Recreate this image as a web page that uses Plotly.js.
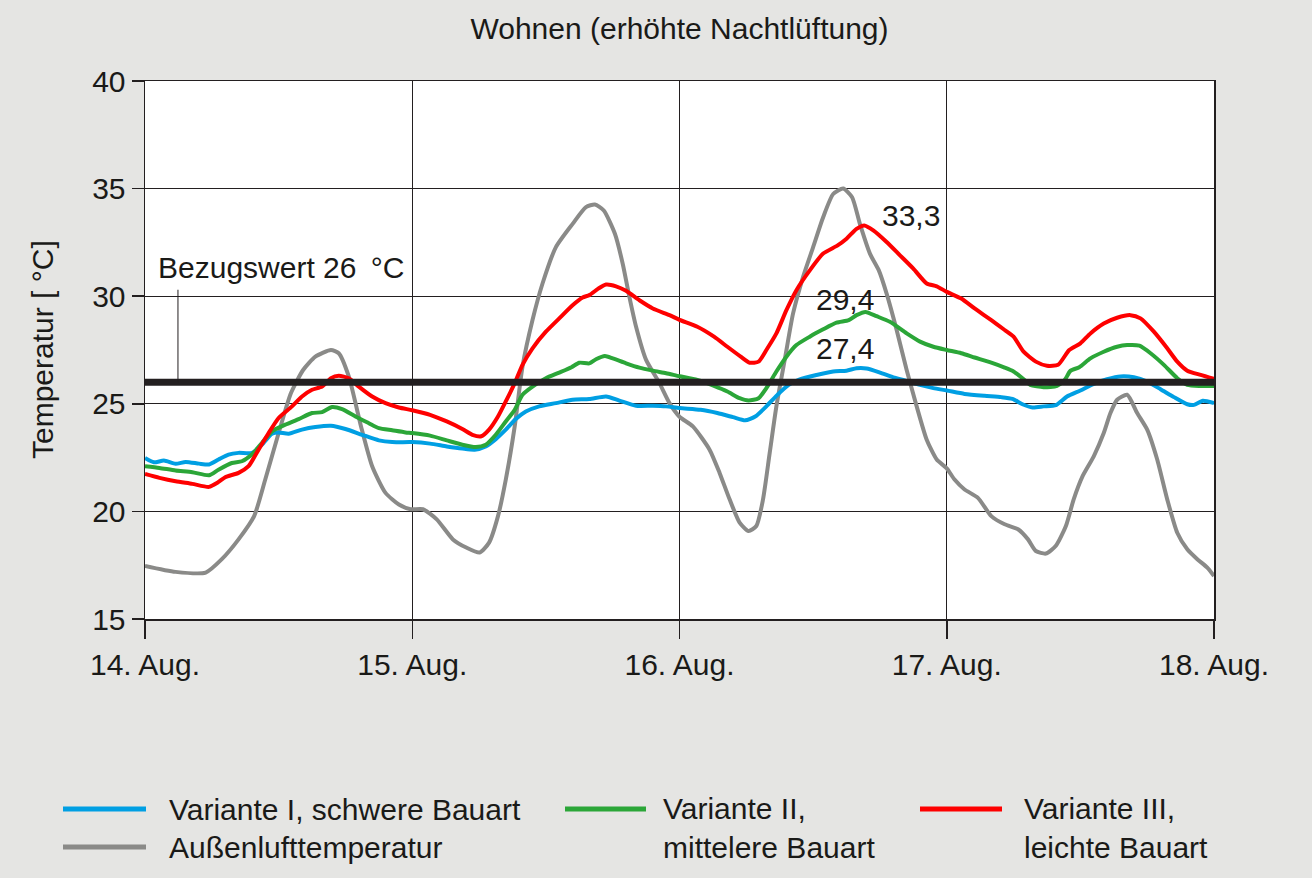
<!DOCTYPE html>
<html>
<head>
<meta charset="utf-8">
<script src="https://cdn.plot.ly/plotly-3.0.1.min.js"></script>
<style>
html,body{margin:0;padding:0;background:#e5e5e3;}
#chart{width:1312px;height:878px;}
</style>
</head>
<body>
<div id="chart"></div>
<script>
// Time in hours since 14. Aug. 00:00
const tickHours = [0, 24, 48, 72, 96];
const tickLabels = ['14. Aug.', '15. Aug.', '16. Aug.', '17. Aug.', '18. Aug.'];

// Außenlufttemperatur
const outsideHours = [0,2.75,5.45,6.9,8.4,9.8,10.8,12.0,13.1,14.2,15.3,16.7,17.4,18.3,19.4,20.4,21.6,22.8,23.85,
  24.96,26.2,27.65,28.85,30.05,30.9,31.7,32.4,33.2,33.9,34.8,35.7,36.9,38.4,39.6,40.4,41.2,42.2,42.9,43.5,44.1,45.0,46.2,47.1,48.0,
  49.2,50.7,51.6,52.5,53.4,54.2,54.9,55.5,56.1,56.7,57.5,58.2,59.1,60.0,60.9,61.8,62.7,63.5,64.2,65.1,65.9,66.6,67.5,68.4,69.3,70.2,71.1,72.0,
  72.7,73.6,74.8,76.0,77.2,78.4,79.3,80.0,80.9,81.8,82.7,83.4,84.2,85.2,86.1,86.7,87.3,88.2,89.1,90.0,90.9,91.8,92.7,93.6,94.5,95.4,96];
const outsideTemp = [17.47,17.19,17.16,17.78,18.7,19.78,21.48,23.64,25.49,26.57,27.19,27.5,27.35,26.27,23.95,22.1,20.86,20.32,20.1,
  20.1,19.63,18.7,18.32,18.09,18.55,19.78,21.48,23.95,26.73,28.89,30.59,32.28,33.36,34.14,34.26,33.98,32.9,31.51,29.97,28.58,27.04,25.96,25.03,24.4,
  23.95,22.87,21.79,20.56,19.48,19.09,19.32,20.56,22.72,24.88,27.19,29.2,30.9,32.28,33.67,34.75,35.0,34.6,33.36,31.98,31.2,30.12,28.43,26.57,24.88,23.33,22.41,22.0,
  21.48,21.02,20.63,19.78,19.4,19.17,18.7,18.16,18.04,18.4,19.32,20.56,21.64,22.56,23.64,24.57,25.19,25.42,24.57,23.8,22.41,20.56,19.01,18.24,17.78,17.39,17.0];

// Variante I, schwere Bauart
const v1Hours = [0,0.8,1.7,2.75,3.65,4.85,5.75,6.6,7.5,8.4,9.6,10.5,11.4,12.0,12.9,14.1,15.3,16.7,18.0,19.5,21.0,22.2,24.0,
  25.6,27.1,28.5,29.6,30.6,31.5,32.4,33.3,34.2,35.4,36.9,38.4,39.9,41.4,42.6,44.1,45.6,46.8,48.0,
  49.9,51.4,52.8,53.9,54.8,55.8,56.7,57.8,58.8,60.3,61.8,63.0,63.9,64.8,66.0,67.2,68.4,69.6,70.8,72.0,
  73.6,75.4,76.9,77.9,78.8,79.7,80.7,81.8,82.8,84.0,85.2,86.4,87.6,88.8,90.0,91.2,92.4,93.6,94.2,95.0,96];
const v1Temp = [22.48,22.28,22.36,22.21,22.3,22.22,22.18,22.41,22.64,22.72,22.72,23.1,23.61,23.67,23.61,23.8,23.92,23.98,23.83,23.56,23.3,23.22,23.22,
  23.15,23.02,22.92,22.87,23.02,23.36,23.8,24.29,24.64,24.88,25.03,25.19,25.22,25.34,25.15,24.91,24.91,24.88,24.8,
  24.72,24.57,24.38,24.23,24.41,24.88,25.37,25.88,26.14,26.34,26.5,26.54,26.65,26.64,26.45,26.23,26.06,25.88,25.73,25.62,
  25.46,25.37,25.31,25.23,24.98,24.83,24.88,24.94,25.34,25.62,25.93,26.14,26.27,26.23,26.03,25.68,25.31,24.98,24.95,25.14,25.03];

// Variante II, mittelere Bauart
const v2Hours = [0,1.3,2.75,4.25,5.75,6.6,7.8,8.7,9.6,10.5,11.4,12.6,13.8,15.0,15.9,16.8,17.7,18.9,20.1,21.0,22.2,23.4,24.0,
  25.6,27.1,28.5,29.7,30.6,31.5,32.4,33.2,33.9,34.8,36.0,37.2,38.3,39.0,39.9,40.5,41.3,42.0,43.2,44.4,45.6,46.8,48.0,
  49.6,51.1,52.3,53.4,54.2,55.1,55.8,56.7,57.6,58.5,59.7,60.9,62.1,63.2,63.9,64.7,65.7,66.9,68.4,69.6,70.8,72.0,
  73.3,74.5,76.0,77.2,78.0,78.8,79.5,80.7,81.9,82.6,83.1,83.9,84.9,86.1,87.3,88.2,89.3,90.3,91.5,92.7,93.6,94.8,96];
const v2Temp = [22.1,22.02,21.9,21.82,21.68,21.94,22.25,22.33,22.64,23.18,23.72,24.03,24.29,24.57,24.61,24.85,24.75,24.41,24.1,23.87,23.77,23.67,23.64,
  23.52,23.3,23.1,22.99,23.1,23.56,24.18,24.72,25.42,25.8,26.19,26.45,26.7,26.91,26.88,27.07,27.22,27.11,26.88,26.68,26.54,26.42,26.28,
  26.11,25.83,25.57,25.26,25.15,25.26,25.73,26.5,27.19,27.73,28.12,28.46,28.77,28.89,29.12,29.27,29.07,28.81,28.27,27.89,27.65,27.5,
  27.35,27.15,26.91,26.68,26.5,26.19,25.88,25.77,25.83,26.11,26.53,26.7,27.11,27.42,27.65,27.73,27.7,27.35,26.81,26.19,25.88,25.83,25.83];

// Variante III, leichte Bauart
const v3Hours = [0,1.3,2.75,4.25,5.75,6.5,7.2,8.4,9.3,10.2,11.1,12.0,13.2,14.1,15.0,15.9,16.7,17.4,18.3,19.2,20.4,21.6,22.8,24.0,
  25.6,27.1,28.5,29.4,30.2,30.9,31.7,32.4,33.2,33.9,34.8,36.0,37.2,38.4,39.3,39.9,40.7,41.4,42.3,43.2,44.4,45.6,47.1,48.0,
  49.6,51.1,52.3,53.5,54.3,55.1,55.8,56.7,57.6,58.5,59.7,60.9,62.2,63.0,63.9,64.6,65.4,66.6,67.8,69.0,70.2,71.1,72.0,
  73.3,74.5,76.0,77.2,78.0,78.9,80.0,81.0,82.0,83.0,84.0,84.9,86.1,87.3,88.5,89.4,90.6,91.8,92.7,93.6,94.8,96];
const v3Temp = [21.74,21.56,21.4,21.28,21.14,21.33,21.59,21.79,22.1,22.87,23.64,24.34,24.88,25.34,25.65,25.8,26.19,26.3,26.19,25.8,25.34,25.03,24.83,24.7,
  24.49,24.18,23.83,23.56,23.49,23.8,24.41,25.11,25.96,26.81,27.58,28.35,28.97,29.58,29.94,30.05,30.35,30.54,30.46,30.25,29.81,29.43,29.12,28.9,
  28.58,28.12,27.65,27.19,26.91,26.96,27.5,28.27,29.35,30.28,31.2,31.98,32.36,32.67,33.13,33.29,33.06,32.52,31.9,31.28,30.59,30.46,30.2,
  29.89,29.43,28.89,28.43,28.12,27.42,26.96,26.77,26.81,27.5,27.81,28.27,28.73,29.0,29.12,28.97,28.35,27.58,26.96,26.54,26.34,26.16];

// Bezugswert
const refHours = [0, 96];
const refTemp = [26, 26];
const refLabel = 'Bezugswert 26\u2009 °C';

// Peak labels
const peakLabels = ['33,3', '29,4', '27,4'];
const peakLabelHours = [66.0, 60.1, 60.1];
const peakLabelTemp = [33.73, 29.87, 27.59];

const seriesNames = ['Variante I, schwere Bauart', 'Variante II,<br>mittelere Bauart', 'Variante III,<br>leichte Bauart', 'Außenlufttemperatur'];
const seriesColors = ['#009fe3', '#2ba638', '#fe0000', '#8a8a88'];

const FONT = 'Liberation Sans, Arial, sans-serif';
const TXT = '#1a1a18';
const FS = 30;

function line(x, y, color, width, name) {
  return {x: x, y: y, type: 'scatter', mode: 'lines', name: name,
    line: {color: color, width: width, shape: 'spline', smoothing: 0.6}, hoverinfo: 'skip', showlegend: false};
}

const traces = [
  line(outsideHours, outsideTemp, seriesColors[3], 4, seriesNames[3]),
  line(v1Hours, v1Temp, seriesColors[0], 4, seriesNames[0]),
  line(v2Hours, v2Temp, seriesColors[1], 4, seriesNames[1]),
  line(v3Hours, v3Temp, seriesColors[2], 4, seriesNames[2]),
  {x: refHours, y: refTemp, type: 'scatter', mode: 'lines', line: {color: '#231f20', width: 7}, hoverinfo: 'skip', showlegend: false}
];

// plot area geometry (px) for manual legend
const L = 145, R = 98, T = 81, B = 259, W = 1312, H = 878;
const pw = W - L - R, ph = H - T - B;
const px2x = p => (p - L) / pw;
const py2y = p => (H - B - p) / ph;

const legendItems = [
  {name: seriesNames[0], color: seriesColors[0], lx0: 63, lx1: 146, tx: 167, y: 809, ty: 809},
  {name: seriesNames[3], color: seriesColors[3], lx0: 63, lx1: 146, tx: 167, y: 847, ty: 847},
  {name: seriesNames[1], color: seriesColors[1], lx0: 565, lx1: 646, tx: 661, y: 809, ty: 828},
  {name: seriesNames[2], color: seriesColors[2], lx0: 920, lx1: 1002, tx: 1022, y: 809, ty: 828}
];

const shapes = [
  // leader line from label to reference line
  {type: 'line', xref: 'x', yref: 'y', x0: 2.96, x1: 2.96, y0: 30.3, y1: 26, line: {color: '#231f20', width: 1}}
];
const annotations = [
  {text: refLabel, xref: 'x', yref: 'y', x: 1.0, y: 31.33, xanchor: 'left', yanchor: 'middle', showarrow: false,
   font: {family: FONT, size: FS, color: TXT}},
  {text: 'Temperatur [ °C]', xref: 'paper', yref: 'paper', x: px2x(42), y: 0.5, textangle: -90, xanchor: 'center', yanchor: 'middle',
   showarrow: false, font: {family: FONT, size: FS, color: TXT}}
];
for (let i = 0; i < peakLabels.length; i++) {
  annotations.push({text: peakLabels[i], xref: 'x', yref: 'y', x: peakLabelHours[i], y: peakLabelTemp[i],
    xanchor: 'left', yanchor: 'middle', showarrow: false, font: {family: FONT, size: FS, color: TXT}});
}
legendItems.forEach(it => {
  shapes.push({type: 'line', xref: 'paper', yref: 'paper', x0: px2x(it.lx0), x1: px2x(it.lx1), y0: py2y(it.y), y1: py2y(it.y),
    line: {color: it.color, width: 5}});
  annotations.push({text: it.name, xref: 'paper', yref: 'paper', x: px2x(it.tx), y: py2y(it.ty), xanchor: 'left',
    yanchor: 'middle', align: 'left', showarrow: false, font: {family: FONT, size: FS, color: TXT}});
});

const layout = {
  width: W, height: H,
  paper_bgcolor: '#e5e5e3', plot_bgcolor: '#ffffff',
  margin: {l: L, r: R, t: T, b: B, pad: 0},
  font: {family: FONT, size: FS, color: TXT},
  title: {text: 'Wohnen (erhöhte Nachtlüftung)', x: 0.5, xref: 'paper', xanchor: 'center', y: 1 - 28 / H, yanchor: 'middle',
    font: {family: FONT, size: FS, color: TXT}},
  showlegend: false,
  xaxis: {range: [0, 96], tickvals: tickHours, ticktext: tickLabels, showgrid: true, gridcolor: '#231f20', gridwidth: 1,
    showline: true, linecolor: '#231f20', linewidth: 1.5, mirror: true, ticks: 'outside', ticklen: 18, tickcolor: '#231f20',
    tickwidth: 1.5, zeroline: false, fixedrange: true, tickfont: {family: FONT, size: FS, color: TXT}},
  yaxis: {range: [15, 40], dtick: 5, tick0: 15, showgrid: true, gridcolor: '#231f20', gridwidth: 1,
    showline: true, linecolor: '#231f20', linewidth: 1.5, mirror: true, ticks: 'outside', ticklen: 12, tickcolor: '#231f20',
    tickwidth: 1.5, zeroline: false, fixedrange: true, tickfont: {family: FONT, size: FS, color: TXT}},
  shapes: shapes,
  annotations: annotations
};

Plotly.newPlot('chart', traces, layout, {displayModeBar: false, staticPlot: true});
</script>
</body>
</html>
